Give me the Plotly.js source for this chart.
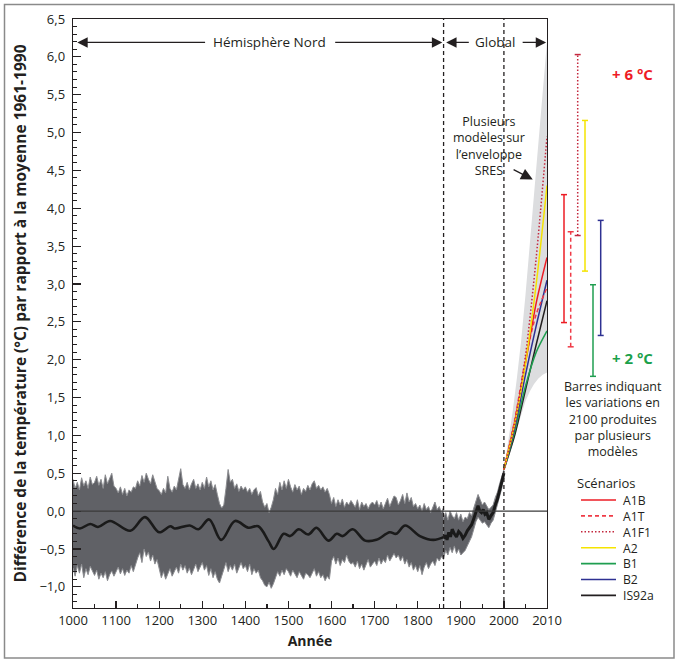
<!DOCTYPE html>
<html>
<head>
<meta charset="utf-8">
<script src="https://cdn.plot.ly/plotly-3.0.1.min.js"></script>
<style>
  html, body { margin: 0; padding: 0; background: #fff; }
  #chart { width: 679px; height: 663px; }
</style>
</head>
<body>
<div id="chart"></div>
<script>
// ---------------- DATA ----------------
// Northern hemisphere reconstruction envelope (every 5 years, 1000-1860)
const NH_UPPER = [
  0.42,0.30,0.38,0.28,0.44,0.33,0.40,0.30,0.45,0.35,
  0.38,0.46,0.34,0.42,0.30,0.48,0.36,0.44,0.50,0.33,
  0.30,0.24,0.32,0.22,0.30,0.20,0.28,0.25,0.32,0.30,
  0.40,0.33,0.47,0.38,0.50,0.42,0.36,0.48,0.38,0.30,
  0.27,0.22,0.30,0.24,0.46,0.30,0.25,0.33,0.28,0.40,
  0.56,0.35,0.30,0.38,0.28,0.36,0.42,0.30,0.36,0.28,
  0.38,0.30,0.45,0.32,0.40,0.28,0.35,0.22,0.10,0.04,
  0.08,0.30,0.55,0.38,0.42,0.30,0.36,0.26,0.33,0.28,
  0.32,0.25,0.30,0.22,0.28,0.31,0.20,0.26,0.12,0.05,
  0.10,-0.02,0.05,0.15,0.30,0.22,0.38,0.28,0.40,0.30,
  0.42,0.32,0.25,0.35,0.28,0.33,0.22,0.30,0.26,0.34,
  0.28,0.36,0.40,0.30,0.34,0.28,0.32,0.25,0.30,0.22,
  0.10,0.18,0.06,0.15,0.08,0.16,0.05,0.12,0.08,0.14,
  0.10,0.05,0.15,0.02,0.12,0.06,0.10,0.03,0.09,0.12,
  0.08,0.14,0.05,0.12,0.03,0.10,0.17,0.06,0.14,0.20,
  0.18,0.08,0.14,0.22,0.10,0.24,0.12,0.18,0.06,0.10,
  0.03,0.08,0.00,0.10,0.02,0.06,-0.02,0.05,0.12,0.02,
  0.06,-0.02,0.05
];
const NH_LOWER = [
  -0.75,-0.86,-0.72,-0.82,-0.70,-0.88,-0.76,-0.84,-0.73,-0.80,
  -0.85,-0.78,-0.90,-0.82,-0.88,-0.80,-0.92,-0.84,-0.79,-0.86,
  -0.80,-0.74,-0.83,-0.76,-0.85,-0.78,-0.82,-0.72,-0.80,-0.70,
  -0.62,-0.55,-0.68,-0.50,-0.60,-0.54,-0.66,-0.58,-0.70,-0.64,
  -0.78,-0.88,-0.80,-0.90,-0.83,-0.76,-0.86,-0.80,-0.74,-0.82,
  -0.70,-0.78,-0.72,-0.82,-0.75,-0.84,-0.77,-0.70,-0.80,-0.74,
  -0.68,-0.78,-0.72,-0.85,-0.76,-0.88,-0.80,-0.90,-0.95,-0.86,
  -0.75,-0.68,-0.80,-0.72,-0.78,-0.70,-0.82,-0.74,-0.68,-0.76,
  -0.72,-0.80,-0.70,-0.84,-0.76,-0.82,-0.78,-0.88,-0.92,-0.98,
  -1.00,-0.94,-1.02,-0.96,-0.88,-0.80,-0.86,-0.78,-0.84,-0.76,
  -0.80,-0.86,-0.78,-0.84,-0.88,-0.80,-0.86,-0.90,-0.82,-0.84,
  -0.88,-0.82,-0.76,-0.86,-0.80,-0.88,-0.84,-0.92,-0.86,-0.90,
  -0.66,-0.60,-0.70,-0.62,-0.72,-0.64,-0.68,-0.58,-0.66,-0.70,
  -0.68,-0.74,-0.66,-0.76,-0.70,-0.78,-0.72,-0.64,-0.74,-0.70,
  -0.66,-0.72,-0.62,-0.70,-0.64,-0.68,-0.58,-0.66,-0.60,-0.56,
  -0.62,-0.58,-0.66,-0.60,-0.70,-0.64,-0.74,-0.68,-0.78,-0.72,
  -0.80,-0.72,-0.84,-0.74,-0.68,-0.76,-0.70,-0.66,-0.72,-0.62,
  -0.66,-0.60,-0.64
];
// Smoothed northern hemisphere curve
const NH_SMOOTH_YEARS = [1000,1016,1040,1058,1086,1133,1167,1200,1226,1236,1271,1291,1316,1344,1376,1407,1430,1454,1466,1489,1504,1524,1546,1565,1593,1612,1626,1649,1678,1704,1735,1750,1771,1805,1836,1862];
const NH_SMOOTH_VALS  = [-0.19,-0.23,-0.17,-0.21,-0.13,-0.26,-0.08,-0.28,-0.20,-0.23,-0.19,-0.24,-0.11,-0.38,-0.13,-0.22,-0.20,-0.40,-0.50,-0.30,-0.33,-0.24,-0.31,-0.22,-0.39,-0.30,-0.33,-0.24,-0.39,-0.38,-0.28,-0.30,-0.19,-0.33,-0.38,-0.34];

// Global instrumental envelope (every 5 years, 1860-2000)
const GL_UPPER = [-0.10,-0.02,-0.12,0.00,-0.06,-0.10,-0.02,-0.12,-0.04,-0.14,-0.08,-0.10,-0.02,-0.06,0.04,0.12,0.22,0.15,0.08,0.12,0.06,0.02,0.05,0.08,0.18,0.25,0.36,0.45,0.55];
const GL_LOWER = [-0.62,-0.52,-0.58,-0.48,-0.55,-0.46,-0.56,-0.50,-0.58,-0.55,-0.52,-0.46,-0.40,-0.34,-0.24,-0.14,-0.08,-0.12,-0.16,-0.14,-0.18,-0.22,-0.16,-0.12,-0.02,0.08,0.18,0.30,0.45];
const GL_LINE_YEARS = [1860,1865,1868,1872,1876,1880,1885,1890,1895,1900,1905,1910,1915,1920,1925,1930,1935,1940,1944,1948,1952,1956,1960,1965,1970,1975,1980,1985,1990,1995,2000];
const GL_LINE_VALS  = [-0.36,-0.32,-0.38,-0.28,-0.34,-0.24,-0.30,-0.34,-0.27,-0.30,-0.36,-0.32,-0.26,-0.22,-0.18,-0.10,-0.02,0.07,0.00,-0.02,0.02,-0.04,-0.02,-0.11,-0.06,-0.02,0.08,0.16,0.27,0.38,0.50];

// SRES envelope (several models)
const SRES_YEARS = [2000,2010,2020,2030,2040,2050,2060,2070,2080,2090,2100];
const SRES_UPPER = [0.55,0.90,1.30,1.75,2.25,2.85,3.50,4.20,4.90,5.55,6.20];
const SRES_LOWER = [0.50,0.68,0.88,1.08,1.28,1.45,1.58,1.68,1.75,1.80,1.83];

// Scenarios
const SCEN_YEARS = [2000,2025,2050,2075,2100];
const SCEN_NAMES = ['A1B','A1T','A1F1','A2','B1','B2','IS92a'];
const A1B   = [0.55,1.18,1.95,2.75,3.35];
const A1T   = [0.55,1.20,2.00,2.60,2.95];
const A1F1  = [0.55,1.15,2.05,3.35,4.95];
const A2    = [0.55,1.15,1.95,3.00,4.30];
const B1    = [0.55,1.05,1.65,2.10,2.38];
const B2    = [0.55,1.10,1.80,2.45,3.05];
const IS92A = [0.55,1.00,1.60,2.20,2.78];

// Range of model results in 2100 (bars on the right)
const BAR_NAMES = ['A1B','A1T','A1F1','A2','B1','B2'];
const BAR_LOW   = [2.49,2.17,3.64,3.17,1.78,2.32];
const BAR_HIGH  = [4.18,3.69,6.03,5.16,2.99,3.84];

// Tick labels
const X_TICKS  = [1000,1100,1200,1300,1400,1500,1600,1700,1800,1900,2000,2100];
const X_LABELS = ['1000','1100','1200','1300','1400','1500','1600','1700','1800','1900','2000','2010'];

// ---------------- STYLE ----------------
const FONT = 'Open Sans, Noto Sans, sans-serif';
const INK = '#231f20';
const STYLE = {
  A1B:   {color:'#ed1c24', dash:'solid'},
  A1T:   {color:'#ef3b47', dash:'4px,3px'},
  A1F1:  {color:'#c4283e', dash:'1.5px,2px'},
  A2:    {color:'#f5e400', dash:'solid'},
  B1:    {color:'#1f9e50', dash:'solid'},
  B2:    {color:'#2e3192', dash:'solid'},
  IS92a: {color:'#231f20', dash:'solid'}
};
const BAR_PX = {A1B:564, A1T:570.7, A1F1:577.7, A2:585, B1:593, B2:600.7};

const W = 679, H = 663, L = 73, R = 132, T = 19, B = 55;
const PW = W - L - R, PH = H - T - B;
const pxX = x => (x - L) / PW;
const pxY = y => (H - B - y) / PH;

function every5(a, b) { const r = []; for (let y = a; y <= b; y += 5) r.push(y); return r; }
const NH_YEARS = every5(1000, 1860);
const GL_YEARS = every5(1860, 2000);

// ---------------- TRACES ----------------
const traces = [];
traces.push({x:SRES_YEARS, y:SRES_LOWER, mode:'lines', line:{width:0, color:'#dcdddf'}, hoverinfo:'skip', showlegend:false});
traces.push({x:SRES_YEARS, y:SRES_UPPER, mode:'lines', line:{width:0, color:'#dcdddf'}, fill:'tonexty', fillcolor:'#dcdddf', hoverinfo:'skip', showlegend:false});
traces.push({x:NH_YEARS, y:NH_LOWER, mode:'lines', line:{width:1, color:'#8c8d91'}, hoverinfo:'skip', showlegend:false});
traces.push({x:NH_YEARS, y:NH_UPPER, mode:'lines', line:{width:1, color:'#8c8d91'}, fill:'tonexty', fillcolor:'#606166', hoverinfo:'skip', showlegend:false});
traces.push({x:GL_YEARS, y:GL_LOWER, mode:'lines', line:{width:1, color:'#8c8d91'}, hoverinfo:'skip', showlegend:false});
traces.push({x:GL_YEARS, y:GL_UPPER, mode:'lines', line:{width:1, color:'#8c8d91'}, fill:'tonexty', fillcolor:'#606166', hoverinfo:'skip', showlegend:false});
traces.push({x:NH_SMOOTH_YEARS, y:NH_SMOOTH_VALS, mode:'lines', line:{width:2.6, color:'#1a1a1a', shape:'spline', smoothing:1}, hoverinfo:'skip', showlegend:false});
traces.push({x:GL_LINE_YEARS, y:GL_LINE_VALS, mode:'lines', line:{width:3, color:'#1a1a1a'}, hoverinfo:'skip', showlegend:false});

const SCEN = {A1B:A1B, A1T:A1T, A1F1:A1F1, A2:A2, B1:B1, B2:B2, IS92a:IS92A};
['IS92a','B1','B2','A1T','A1B','A2','A1F1'].forEach(n => {
  traces.push({x:SCEN_YEARS, y:SCEN[n], mode:'lines', name:n,
    line:{width:1.5, color:STYLE[n].color, dash:STYLE[n].dash, shape:'spline', smoothing:0.8},
    hoverinfo:'skip', showlegend:false});
});

// ---------------- SHAPES ----------------
const shapes = [];
// outer frame
shapes.push({type:'rect', xref:'paper', yref:'paper', x0:pxX(4.5), x1:pxX(674), y0:pxY(658), y1:pxY(4.5),
  line:{color:'#8a8a8a', width:1.5}, layer:'above'});
// zero line
shapes.push({type:'line', xref:'paper', yref:'y', x0:0, x1:1, y0:0, y1:0, line:{color:'#3a3a3a', width:1.2}, layer:'above'});
// dashed separators
[1860, 2000].forEach(v => shapes.push({type:'line', xref:'x', yref:'paper', x0:v, x1:v, y0:0, y1:1,
  line:{color:INK, width:1.3, dash:'4px,3px'}, layer:'above'}));
// range bars (2100)
BAR_NAMES.forEach((n, i) => {
  const xc = BAR_PX[n];
  shapes.push({type:'line', xref:'paper', yref:'y', x0:pxX(xc), x1:pxX(xc), y0:BAR_LOW[i], y1:BAR_HIGH[i],
    line:{color:STYLE[n].color, width:1.5, dash:STYLE[n].dash}});
  [BAR_LOW[i], BAR_HIGH[i]].forEach(v => shapes.push({type:'line', xref:'paper', yref:'y',
    x0:pxX(xc-3), x1:pxX(xc+3), y0:v, y1:v, line:{color:STYLE[n].color, width:1.5}}));
});
// manual legend line samples
const LEG_Y0 = 500, LEG_STEP = 15.9;
SCEN_NAMES.forEach((n, i) => {
  const yy = LEG_Y0 + i * LEG_STEP;
  shapes.push({type:'line', xref:'paper', yref:'paper', x0:pxX(581), x1:pxX(616), y0:pxY(yy), y1:pxY(yy),
    line:{color:STYLE[n].color, width:1.6, dash:STYLE[n].dash}});
});

// ---------------- ANNOTATIONS ----------------
const annotations = [];
const txt = (o) => Object.assign({showarrow:false, xanchor:'center', yanchor:'middle', borderpad:0,
  font:{family:FONT, size:13.5, color:INK}}, o);
const arrow = (x, y, ax) => ({x:x, y:y, ax:ax, ay:y, xref:'x', yref:'y', axref:'x', ayref:'y', text:'',
  showarrow:true, arrowhead:2, arrowsize:1.6, arrowwidth:1.3, arrowcolor:INK, standoff:0, startstandoff:0});

annotations.push(txt({x:1457, y:6.19, xref:'x', yref:'y', text:'Hémisphère Nord'}));
annotations.push(arrow(1010, 6.19, 1310));
annotations.push(arrow(1857, 6.19, 1605));
annotations.push(txt({x:1980, y:6.19, xref:'x', yref:'y', text:'Global'}));
annotations.push(arrow(1866, 6.19, 1922));
annotations.push(arrow(2098, 6.19, 2040));

annotations.push(txt({x:pxX(489), y:pxY(146), xref:'paper', yref:'paper', align:'center',
  text:'Plusieurs<br>modèles sur<br>l’enveloppe<br>SRES', font:{family:FONT, size:12.5, color:INK}}));
annotations.push({x:2067, y:4.38, ax:2019, ay:4.52, xref:'x', yref:'y', axref:'x', ayref:'y', text:'',
  showarrow:true, arrowhead:2, arrowsize:1.8, arrowwidth:1.3, arrowcolor:INK, standoff:0});

annotations.push(txt({x:pxX(632), y:pxY(74), xref:'paper', yref:'paper', text:'+ 6 °C',
  font:{family:FONT, size:15, color:'#ee1c25', weight:'bold'}}));
annotations.push(txt({x:pxX(632), y:pxY(358), xref:'paper', yref:'paper', text:'+ 2 °C',
  font:{family:FONT, size:15, color:'#1ba14b', weight:'bold'}}));

annotations.push(txt({x:pxX(612.5), y:pxY(419.5), xref:'paper', yref:'paper', align:'center',
  text:'Barres indiquant<br>les variations en<br>2100 produites<br>par plusieurs<br>modèles',
  font:{family:FONT, size:12.5, color:INK}}));

annotations.push(txt({x:pxX(576), y:pxY(483), xref:'paper', yref:'paper', xanchor:'left', text:'Scénarios',
  font:{family:FONT, size:13, color:INK}}));
annotations.push(txt({x:pxX(622), y:pxY(LEG_Y0 + 3 * LEG_STEP), xref:'paper', yref:'paper', xanchor:'left',
  align:'left', text:SCEN_NAMES.join('<br>'), font:{family:FONT, size:12.2, color:INK}}));

// ---------------- LAYOUT ----------------
const layout = {
  width: W, height: H,
  margin: {l:L, r:R, t:T, b:B, pad:0},
  paper_bgcolor: '#ffffff', plot_bgcolor: '#ffffff',
  separators: ', ',
  font: {family: FONT, size: 13, color: INK},
  showlegend: false,
  xaxis: {
    range: [1000, 2100], showgrid:false, zeroline:false,
    showline:true, linecolor:INK, linewidth:1.3, mirror:true,
    tickmode:'array', tickvals:X_TICKS, ticktext:X_LABELS,
    ticks:'inside', ticklen:7, tickwidth:1.2, tickcolor:INK,
    tickfont:{family:FONT, size:13, color:INK},
    minor:{tickmode:'linear', tick0:1050, dtick:100, ticks:'inside', ticklen:4, tickwidth:1.2, tickcolor:INK, showgrid:false},
    title:{text:'Année', font:{family:FONT, size:14, color:INK, weight:'bold'}, standoff:8}
  },
  yaxis: {
    range: [-1.28, 6.5], showgrid:false, zeroline:false,
    showline:true, linecolor:INK, linewidth:1.3, mirror:true,
    tickmode:'linear', tick0:0, dtick:0.5, tickformat:'.1f',
    ticks:'inside', ticklen:8, tickwidth:1.2, tickcolor:INK,
    ticklabelstandoff:4,
    tickfont:{family:FONT, size:13, color:INK},
    minor:{tickmode:'linear', tick0:0, dtick:0.1, ticks:'inside', ticklen:4, tickwidth:1, tickcolor:INK, showgrid:false},
    title:{text:'Différence de la température (°C) par rapport à la moyenne 1961-1990',
           font:{family:FONT, size:15.5, color:INK, weight:'bold'}, standoff:9}
  },
  shapes: shapes,
  annotations: annotations
};

Plotly.newPlot('chart', traces, layout, {displayModeBar:false, staticPlot:true});
</script>
</body>
</html>
